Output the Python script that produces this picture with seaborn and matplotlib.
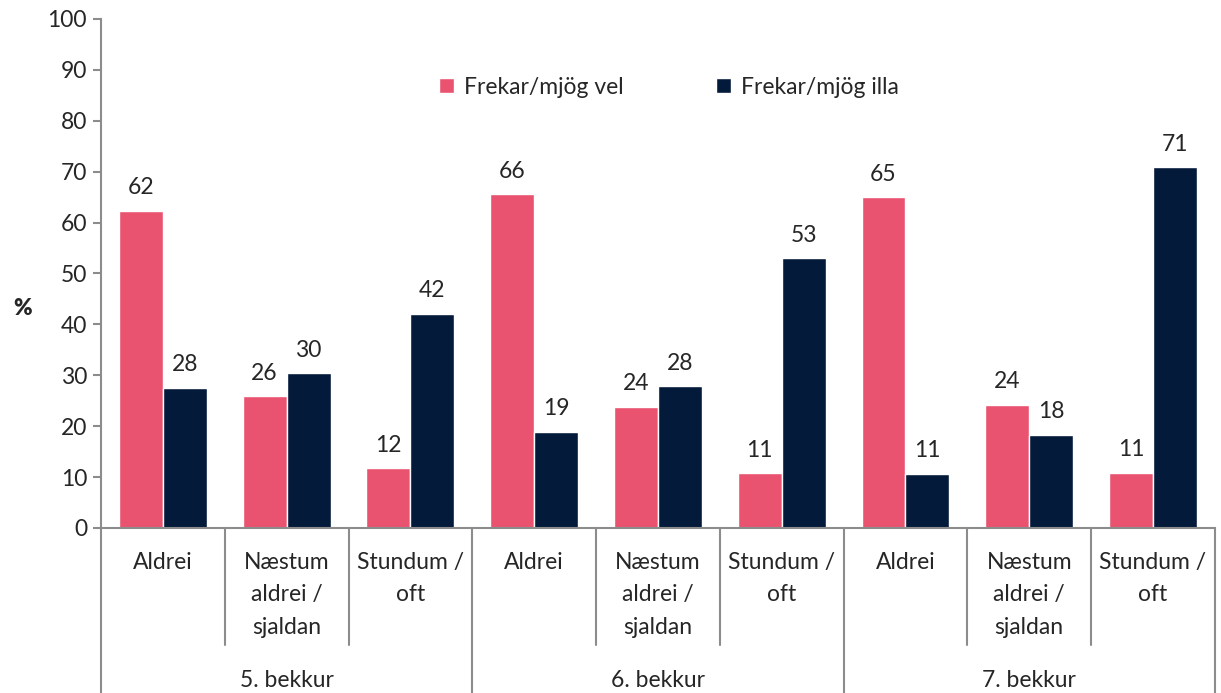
import pandas as pd
import matplotlib.pyplot as plt
import matplotlib.transforms as mtransforms
import seaborn as sns

grades = ["5. bekkur", "6. bekkur", "7. bekkur"]
answers = ["Aldrei", "Næstum\naldrei /\nsjaldan", "Stundum /\noft"]
series = ["Frekar/mjög vel", "Frekar/mjög illa"]
good = [62.3, 25.9, 11.7, 65.6, 23.8, 10.8, 65.0, 24.2, 10.9]
bad = [27.6, 30.4, 42.1, 18.9, 27.8, 53.0, 10.7, 18.3, 70.9]
colors = ["#E9536F", "#031A3A"]

keys = [f"{g}|{a}" for g in grades for a in answers]
df = pd.DataFrame({
    "key": keys * 2,
    "value": good + bad,
    "series": [series[0]] * len(keys) + [series[1]] * len(keys),
})

sns.set_style("white")
plt.rcParams["font.family"] = ["Lato", "DejaVu Sans"]
fs = 16.5

fig = plt.figure(figsize=(12.21, 6.93), dpi=100)
ax = fig.add_axes([0.0827, 0.2381, 0.9123, 0.7345])

sns.barplot(data=df, x="key", y="value", hue="series", order=keys,
            palette=colors, saturation=1, width=0.71, errorbar=None, ax=ax)

for cont, vals in zip(ax.containers, [good, bad]):
    ax.bar_label(cont, labels=[f"{v:.0f}" for v in vals], padding=9, fontsize=fs)

ax.set_ylim(0, 100)
ax.set_yticks(range(0, 101, 10))
ax.set_xlim(-0.5, len(keys) - 0.5)
ax.set_xticks([])
ax.set_xlabel("")
ax.set_ylabel("%", rotation=0, fontweight="heavy", fontsize=16, va="center", ha="center")
ax.yaxis.set_label_coords(-0.07, 0.432)

grey = "#8C8C8C"
for s in ["top", "right"]:
    ax.spines[s].set_visible(False)
for s in ["left", "bottom"]:
    ax.spines[s].set_color(grey)
    ax.spines[s].set_linewidth(1.5)
ax.tick_params(axis="y", left=True, length=6, width=1.5, color=grey, labelsize=fs, pad=4)

# two-level category axis
trans = mtransforms.blended_transform_factory(ax.transData, ax.transAxes)
for i, k in enumerate(keys):
    ax.text(i, -0.048, k.split("|")[1], transform=trans, ha="center", va="top",
            fontsize=fs, linespacing=1.65)
for i in range(len(keys) + 1):
    bottom = -0.324 if i % 3 == 0 else -0.23
    ax.plot([i - 0.5, i - 0.5], [0, bottom], transform=trans, color=grey,
            lw=1.5, clip_on=False)
for j, g in enumerate(grades):
    ax.text(3 * j + 1, -0.3, g, transform=trans, ha="center", va="center", fontsize=fs)

ax.legend(loc="center", bbox_to_anchor=(0.51, 0.866), ncol=2, frameon=False,
          handlelength=0.65, handleheight=0.65, handletextpad=0.45,
          columnspacing=4.0, fontsize=fs)

fig.savefig("out.png", dpi=100)
